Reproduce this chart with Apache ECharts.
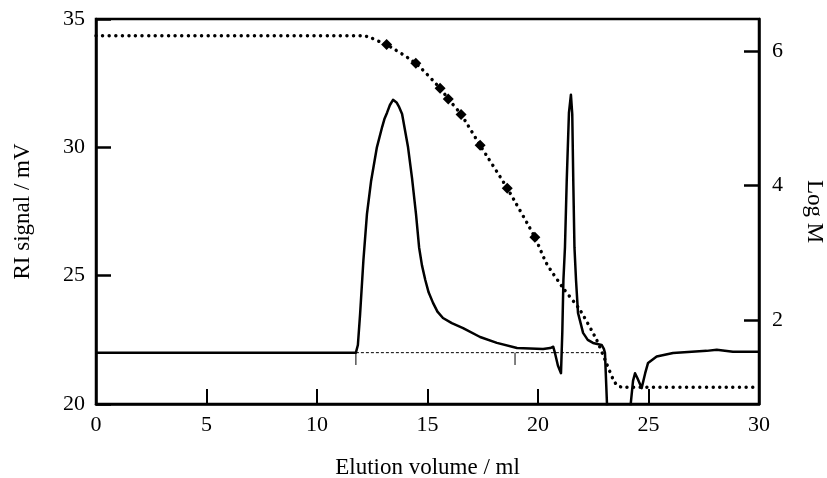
<!DOCTYPE html>
<html>
<head>
<meta charset="utf-8">
<script src="https://cdn.jsdelivr.net/npm/echarts@6/dist/echarts.min.js"></script>
<style>
  html, body { margin: 0; padding: 0; background: #fff; }
  #container { width: 827px; height: 478px; }
</style>
</head>
<body>
<div id="container"></div>
<script>
// RI trace (elution volume / ml, signal / mV)
var riX = [0, 11.76, 11.85, 11.95, 12.1, 12.26, 12.45, 12.71, 12.95, 13.05, 13.17, 13.3, 13.44, 13.6, 13.7, 13.85, 14.12, 14.3, 14.48, 14.62, 14.75, 14.9, 15.05, 15.25, 15.45, 15.7, 16.1, 16.61, 17.38, 18.14, 19.05, 20.23, 20.55, 20.69, 20.77, 20.9, 21.04, 21.1, 21.15, 21.22, 21.3, 21.4, 21.49, 21.55, 21.6, 21.65, 21.72, 21.81, 22.04, 22.25, 22.49, 22.88, 22.98, 23.03, 23.12, 23.17, 24.15, 24.2, 24.3, 24.39, 24.5, 24.69, 24.85, 24.98, 25.37, 26.11, 27.63, 28.09, 28.82, 30];
var riY = [22.0, 22.0, 22.3, 23.5, 25.6, 27.4, 28.7, 30.0, 30.8, 31.1, 31.35, 31.65, 31.85, 31.75, 31.6, 31.3, 30.0, 28.8, 27.4, 26.1, 25.4, 24.83, 24.35, 23.94, 23.6, 23.35, 23.15, 22.96, 22.61, 22.38, 22.18, 22.14, 22.18, 22.23, 21.98, 21.5, 21.2, 22.8, 24.83, 26.1, 28.7, 31.34, 32.05, 31.3, 28.5, 26.1, 24.83, 23.55, 22.77, 22.5, 22.38, 22.3, 22.15, 21.99, 20.04, 19.0, 19.0, 20.04, 20.9, 21.2, 21.0, 20.62, 21.2, 21.6, 21.85, 21.99, 22.07, 22.11, 22.04, 22.04];

// calibration curve (Log M)
var calX = [0, 12.1, 12.45, 12.7, 13.15, 14.47, 15.57, 15.94, 16.52, 17.38, 18.61, 19.86, 20.39, 21.15, 21.9, 22.66, 23.03, 23.41, 23.6, 23.86, 30];
var calY = [6.23, 6.23, 6.2, 6.16, 6.1, 5.82, 5.45, 5.29, 5.06, 4.6, 3.96, 3.23, 2.84, 2.47, 2.15, 1.7, 1.41, 1.11, 1.02, 1.0, 1.0];

// standards
var stdX = [13.15, 14.47, 15.57, 15.94, 16.52, 17.38, 18.61, 19.86];
var stdY = [6.1, 5.82, 5.45, 5.29, 5.06, 4.6, 3.96, 3.23];

// integration baseline and limits
var baseX = [11.76, 22.9];
var baseY = [22.0, 22.0];
var limitX = [11.76, 18.96];
var limitTop = 22.0;
var limitBottom = 21.52;

var logTicks = [2, 4, 6];

function pairs(xs, ys) {
  return xs.map(function (x, i) { return [x, ys[i]]; });
}

var chart = echarts.init(document.getElementById('container'));
var font = '"Liberation Serif", "DejaVu Serif", serif';

var series = [
  {
    name: 'baseline',
    type: 'line',
    yAxisIndex: 0,
    data: pairs(baseX, baseY),
    symbol: 'none',
    lineStyle: { color: '#000', width: 1, type: [3, 2] },
    z: 2
  }
];
limitX.forEach(function (x) {
  series.push({
    type: 'line',
    yAxisIndex: 0,
    data: [[x, limitTop], [x, limitBottom]],
    symbol: 'none',
    lineStyle: { color: '#000', width: 1 },
    z: 2
  });
});
series.push({
  name: 'RI',
  type: 'line',
  yAxisIndex: 0,
  data: pairs(riX, riY),
  symbol: 'none',
  lineStyle: { color: '#000', width: 2.5, join: 'round' },
  z: 4
});
series.push({
  name: 'calibration',
  type: 'line',
  yAxisIndex: 1,
  data: pairs(calX, calY),
  symbol: 'none',
  smooth: 0.2,
  lineStyle: { color: '#000', width: 3.4, type: [0.1, 6.5], cap: 'round' },
  z: 3
});
series.push({
  name: 'standards',
  type: 'scatter',
  yAxisIndex: 1,
  data: pairs(stdX, stdY),
  symbol: 'diamond',
  symbolSize: 11,
  itemStyle: { color: '#000', opacity: 1 },
  z: 5
});

var option = {
  animation: false,
  backgroundColor: '#fff',
  grid: {
    left: 96, right: 68, top: 19, bottom: 74,
    outerBoundsMode: 'none',
    containLabel: false,
    show: true, borderColor: '#000', borderWidth: 2.5, backgroundColor: 'transparent'
  },
  xAxis: {
    type: 'value',
    min: 0, max: 30, interval: 5,
    name: 'Elution volume / ml',
    nameLocation: 'middle',
    nameGap: 52,
    nameTextStyle: { fontFamily: font, fontSize: 23, color: '#000' },
    axisLine: { show: true, lineStyle: { color: '#000', width: 2.5 } },
    axisTick: { show: true, inside: true, length: 15, lineStyle: { color: '#000', width: 2 } },
    axisLabel: { fontFamily: font, fontSize: 22, color: '#000', margin: 10 },
    splitLine: { show: false }
  },
  yAxis: [
    {
      type: 'value',
      min: 20, max: 35, interval: 5,
      name: 'RI signal / mV',
      nameLocation: 'middle',
      nameGap: 62,
      nameTextStyle: { fontFamily: font, fontSize: 23, color: '#000' },
      axisLine: { show: true, lineStyle: { color: '#000', width: 2.5 } },
      axisTick: { show: true, inside: true, length: 15, lineStyle: { color: '#000', width: 2.5 } },
      axisLabel: { fontFamily: font, fontSize: 22, color: '#000', margin: 11 },
      splitLine: { show: false }
    },
    {
      type: 'value',
      position: 'right',
      min: 0.75, max: 6.48,
      name: 'Log M',
      nameLocation: 'middle',
      nameRotate: -90,
      nameGap: 44,
      nameTextStyle: { fontFamily: font, fontSize: 23, color: '#000' },
      axisLine: { show: true, lineStyle: { color: '#000', width: 2.5 } },
      axisTick: { show: true, inside: true, length: 15, customValues: logTicks, lineStyle: { color: '#000', width: 2.5 } },
      axisLabel: { fontFamily: font, fontSize: 22, color: '#000', margin: 13, customValues: logTicks },
      splitLine: { show: false }
    }
  ],
  series: series
};

chart.setOption(option);
</script>
</body>
</html>
